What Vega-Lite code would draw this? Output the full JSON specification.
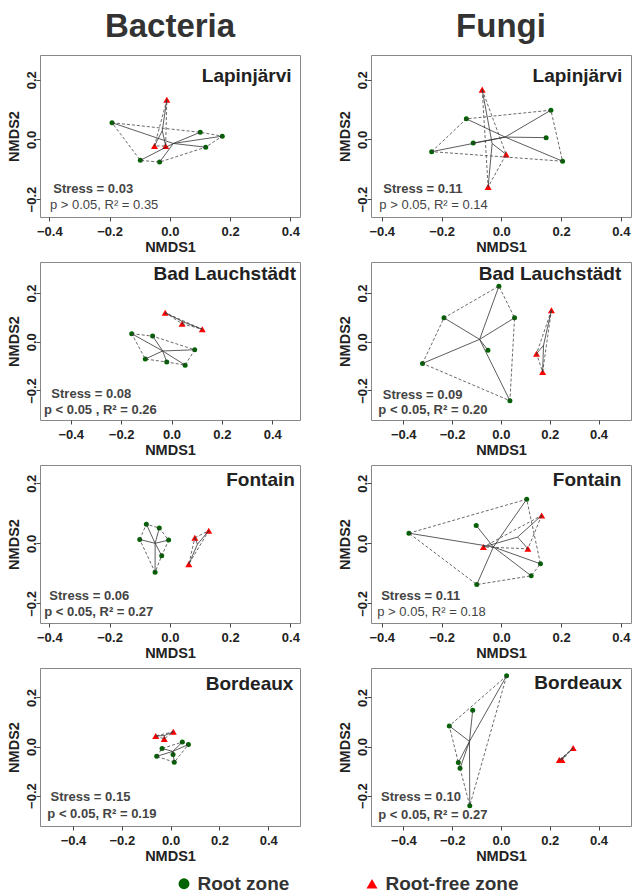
{
  "$schema": "https://vega.github.io/schema/vega-lite/v6.json",
  "padding": {"left": 6, "top": 10, "right": 2, "bottom": 0},
  "background": "white",
  "datasets": {
    "pts": [
      {"k": "Bacteria", "site": "Lapinjärvi", "zone": "Root zone", "x": -0.192, "y": 0.056, "h": 1},
      {"k": "Bacteria", "site": "Lapinjärvi", "zone": "Root zone", "x": 0.101, "y": 0.024, "h": 2},
      {"k": "Bacteria", "site": "Lapinjärvi", "zone": "Root zone", "x": 0.174, "y": 0.011, "h": 3},
      {"k": "Bacteria", "site": "Lapinjärvi", "zone": "Root zone", "x": 0.119, "y": -0.026, "h": 4},
      {"k": "Bacteria", "site": "Lapinjärvi", "zone": "Root zone", "x": -0.034, "y": -0.076, "h": 5},
      {"k": "Bacteria", "site": "Lapinjärvi", "zone": "Root zone", "x": -0.098, "y": -0.07, "h": 6},
      {"k": "Bacteria", "site": "Lapinjärvi", "zone": "Root-free zone", "x": -0.01, "y": 0.133, "h": 1},
      {"k": "Bacteria", "site": "Lapinjärvi", "zone": "Root-free zone", "x": -0.051, "y": -0.022, "h": 2},
      {"k": "Bacteria", "site": "Lapinjärvi", "zone": "Root-free zone", "x": -0.014, "y": -0.022, "h": 3},

      {"k": "Fungi", "site": "Lapinjärvi", "zone": "Root zone", "x": -0.233, "y": -0.041, "h": 1},
      {"k": "Fungi", "site": "Lapinjärvi", "zone": "Root zone", "x": -0.117, "y": 0.069, "h": 2},
      {"k": "Fungi", "site": "Lapinjärvi", "zone": "Root zone", "x": 0.166, "y": 0.098, "h": 3},
      {"k": "Fungi", "site": "Lapinjärvi", "zone": "Root zone", "x": 0.205, "y": -0.073, "h": 4},
      {"k": "Fungi", "site": "Lapinjärvi", "zone": "Root zone", "x": 0.15, "y": 0.006, "h": null},
      {"k": "Fungi", "site": "Lapinjärvi", "zone": "Root zone", "x": -0.094, "y": -0.012, "h": null},
      {"k": "Fungi", "site": "Lapinjärvi", "zone": "Root-free zone", "x": -0.064, "y": 0.167, "h": 1},
      {"k": "Fungi", "site": "Lapinjärvi", "zone": "Root-free zone", "x": 0.016, "y": -0.05, "h": 2},
      {"k": "Fungi", "site": "Lapinjärvi", "zone": "Root-free zone", "x": -0.044, "y": -0.159, "h": 3},

      {"k": "Bacteria", "site": "Bad Lauchstädt", "zone": "Root zone", "x": -0.158, "y": 0.033, "h": 1},
      {"k": "Bacteria", "site": "Bad Lauchstädt", "zone": "Root zone", "x": -0.075, "y": 0.023, "h": 2},
      {"k": "Bacteria", "site": "Bad Lauchstädt", "zone": "Root zone", "x": 0.092, "y": -0.033, "h": 3},
      {"k": "Bacteria", "site": "Bad Lauchstädt", "zone": "Root zone", "x": 0.054, "y": -0.096, "h": 4},
      {"k": "Bacteria", "site": "Bad Lauchstädt", "zone": "Root zone", "x": -0.019, "y": -0.083, "h": 5},
      {"k": "Bacteria", "site": "Bad Lauchstädt", "zone": "Root zone", "x": -0.104, "y": -0.071, "h": 6},
      {"k": "Bacteria", "site": "Bad Lauchstädt", "zone": "Root-free zone", "x": -0.025, "y": 0.119, "h": 1},
      {"k": "Bacteria", "site": "Bad Lauchstädt", "zone": "Root-free zone", "x": 0.042, "y": 0.074, "h": 2},
      {"k": "Bacteria", "site": "Bad Lauchstädt", "zone": "Root-free zone", "x": 0.122, "y": 0.051, "h": 3},

      {"k": "Fungi", "site": "Bad Lauchstädt", "zone": "Root zone", "x": -0.321, "y": -0.089, "h": 1},
      {"k": "Fungi", "site": "Bad Lauchstädt", "zone": "Root zone", "x": -0.233, "y": 0.098, "h": 2},
      {"k": "Fungi", "site": "Bad Lauchstädt", "zone": "Root zone", "x": -0.008, "y": 0.228, "h": 3},
      {"k": "Fungi", "site": "Bad Lauchstädt", "zone": "Root zone", "x": 0.056, "y": 0.098, "h": 4},
      {"k": "Fungi", "site": "Bad Lauchstädt", "zone": "Root zone", "x": 0.037, "y": -0.242, "h": 5},
      {"k": "Fungi", "site": "Bad Lauchstädt", "zone": "Root zone", "x": -0.053, "y": -0.035, "h": null},
      {"k": "Fungi", "site": "Bad Lauchstädt", "zone": "Root-free zone", "x": 0.207, "y": 0.129, "h": 1},
      {"k": "Fungi", "site": "Bad Lauchstädt", "zone": "Root-free zone", "x": 0.146, "y": -0.049, "h": 2},
      {"k": "Fungi", "site": "Bad Lauchstädt", "zone": "Root-free zone", "x": 0.171, "y": -0.124, "h": 3},

      {"k": "Bacteria", "site": "Fontain", "zone": "Root zone", "x": -0.1, "y": 0.013, "h": 1},
      {"k": "Bacteria", "site": "Fontain", "zone": "Root zone", "x": -0.078, "y": 0.064, "h": 2},
      {"k": "Bacteria", "site": "Fontain", "zone": "Root zone", "x": -0.035, "y": 0.051, "h": 3},
      {"k": "Bacteria", "site": "Fontain", "zone": "Root zone", "x": -0.004, "y": 0.011, "h": 4},
      {"k": "Bacteria", "site": "Fontain", "zone": "Root zone", "x": -0.027, "y": -0.041, "h": 5},
      {"k": "Bacteria", "site": "Fontain", "zone": "Root zone", "x": -0.049, "y": -0.096, "h": 6},
      {"k": "Bacteria", "site": "Fontain", "zone": "Root-free zone", "x": 0.083, "y": 0.019, "h": 1},
      {"k": "Bacteria", "site": "Fontain", "zone": "Root-free zone", "x": 0.129, "y": 0.042, "h": 2},
      {"k": "Bacteria", "site": "Fontain", "zone": "Root-free zone", "x": 0.063, "y": -0.069, "h": 3},

      {"k": "Fungi", "site": "Fontain", "zone": "Root zone", "x": -0.309, "y": 0.034, "h": 1},
      {"k": "Fungi", "site": "Fontain", "zone": "Root zone", "x": 0.085, "y": 0.147, "h": 2},
      {"k": "Fungi", "site": "Fontain", "zone": "Root zone", "x": 0.131, "y": -0.068, "h": 3},
      {"k": "Fungi", "site": "Fontain", "zone": "Root zone", "x": 0.1, "y": -0.108, "h": 4},
      {"k": "Fungi", "site": "Fontain", "zone": "Root zone", "x": -0.082, "y": -0.137, "h": 5},
      {"k": "Fungi", "site": "Fontain", "zone": "Root zone", "x": -0.084, "y": 0.06, "h": null},
      {"k": "Fungi", "site": "Fontain", "zone": "Root-free zone", "x": 0.135, "y": 0.093, "h": 1},
      {"k": "Fungi", "site": "Fontain", "zone": "Root-free zone", "x": 0.089, "y": -0.018, "h": 2},
      {"k": "Fungi", "site": "Fontain", "zone": "Root-free zone", "x": -0.06, "y": -0.012, "h": 3},

      {"k": "Bacteria", "site": "Bordeaux", "zone": "Root zone", "x": -0.057, "y": -0.04, "h": 1},
      {"k": "Bacteria", "site": "Bordeaux", "zone": "Root zone", "x": -0.035, "y": -0.008, "h": 2},
      {"k": "Bacteria", "site": "Bordeaux", "zone": "Root zone", "x": 0.048, "y": 0.018, "h": 3},
      {"k": "Bacteria", "site": "Bordeaux", "zone": "Root zone", "x": 0.073, "y": 0.008, "h": 4},
      {"k": "Bacteria", "site": "Bordeaux", "zone": "Root zone", "x": 0.015, "y": -0.064, "h": 5},
      {"k": "Bacteria", "site": "Bordeaux", "zone": "Root zone", "x": 0.01, "y": -0.033, "h": null},
      {"k": "Bacteria", "site": "Bordeaux", "zone": "Root-free zone", "x": -0.061, "y": 0.043, "h": 1},
      {"k": "Bacteria", "site": "Bordeaux", "zone": "Root-free zone", "x": -0.026, "y": 0.031, "h": 2},
      {"k": "Bacteria", "site": "Bordeaux", "zone": "Root-free zone", "x": 0.011, "y": 0.06, "h": 3},

      {"k": "Fungi", "site": "Bordeaux", "zone": "Root zone", "x": 0.023, "y": 0.288, "h": 1},
      {"k": "Fungi", "site": "Bordeaux", "zone": "Root zone", "x": -0.212, "y": 0.084, "h": 2},
      {"k": "Fungi", "site": "Bordeaux", "zone": "Root zone", "x": -0.175, "y": -0.065, "h": 3},
      {"k": "Fungi", "site": "Bordeaux", "zone": "Root zone", "x": -0.168, "y": -0.089, "h": 4},
      {"k": "Fungi", "site": "Bordeaux", "zone": "Root zone", "x": -0.128, "y": -0.241, "h": 5},
      {"k": "Fungi", "site": "Bordeaux", "zone": "Root zone", "x": -0.116, "y": 0.148, "h": null},
      {"k": "Fungi", "site": "Bordeaux", "zone": "Root-free zone", "x": 0.296, "y": -0.006, "h": 1},
      {"k": "Fungi", "site": "Bordeaux", "zone": "Root-free zone", "x": 0.239, "y": -0.055, "h": 2},
      {"k": "Fungi", "site": "Bordeaux", "zone": "Root-free zone", "x": 0.25, "y": -0.055, "h": 3}
    ]
  },
  "columns": 2,
  "align": "each",
  "bounds": "flush",
  "spacing": {"row": 45, "column": 71},
  "concat": [
    {
      "width": 260, "height": 162,
      "layer": [
        {"data": {"name": "pts"}, "transform": [{"filter": "datum.k === 'Bacteria' && datum.site === 'Lapinjärvi' && datum.zone === 'Root zone'"}],
         "mark": {"type": "point", "filled": true, "opacity": 1, "size": 25},
         "encoding": {
           "x": {"field": "x", "type": "quantitative", "title": "NMDS1", "scale": {"domain": [-0.431, 0.432], "nice": false, "zero": false}},
           "y": {"field": "y", "type": "quantitative", "title": "NMDS2", "scale": {"domain": [-0.26, 0.283], "nice": false, "zero": false}},
           "color": {"field": "zone", "type": "nominal", "scale": {"domain": ["Root zone", "Root-free zone"], "range": ["#006400", "#ff0000"]}, "legend": {"title": null, "orient": "none", "legendX": 134.5, "legendY": 819, "direction": "horizontal"}},
           "shape": {"field": "zone", "type": "nominal", "scale": {"domain": ["Root zone", "Root-free zone"], "range": ["circle", "triangle-up"]}, "legend": {"title": null, "orient": "none", "legendX": 134.5, "legendY": 819, "direction": "horizontal"}}}},
        {"data": {"name": "pts"}, "transform": [{"filter": "datum.k === 'Bacteria' && datum.site === 'Lapinjärvi' && datum.zone === 'Root-free zone'"}],
         "mark": {"type": "point", "filled": true, "opacity": 1, "size": 49},
         "encoding": {
           "x": {"field": "x", "type": "quantitative", "title": "NMDS1"},
           "y": {"field": "y", "type": "quantitative", "title": "NMDS2"},
           "color": {"field": "zone", "type": "nominal", "scale": {"domain": ["Root zone", "Root-free zone"], "range": ["#006400", "#ff0000"]}, "legend": {"title": null, "orient": "none", "legendX": 134.5, "legendY": 819, "direction": "horizontal"}},
           "shape": {"field": "zone", "type": "nominal", "scale": {"domain": ["Root zone", "Root-free zone"], "range": ["circle", "triangle-up"]}, "legend": {"title": null, "orient": "none", "legendX": 134.5, "legendY": 819, "direction": "horizontal"}}}},
        {"data": {"name": "pts"}, "transform": [{"filter": "datum.k === 'Bacteria' && datum.site === 'Lapinjärvi' && isValid(datum.h)"}], "mark": {"type": "line", "interpolate": "linear-closed", "strokeDash": [3, 2], "strokeWidth": 0.8, "color": "#444444"}, "encoding": {"x": {"field": "x", "type": "quantitative", "title": "NMDS1"}, "y": {"field": "y", "type": "quantitative", "title": "NMDS2"}, "detail": {"field": "zone"}, "order": {"field": "h", "type": "quantitative"}}},
        {"data": {"name": "pts"}, "transform": [{"filter": "datum.k === 'Bacteria' && datum.site === 'Lapinjärvi'"}, {"joinaggregate": [{"op": "mean", "field": "x", "as": "cx"}, {"op": "mean", "field": "y", "as": "cy"}], "groupby": ["zone"]}], "mark": {"type": "rule", "strokeWidth": 0.8, "color": "#333333"}, "encoding": {"x": {"field": "x", "type": "quantitative", "title": "NMDS1"}, "y": {"field": "y", "type": "quantitative", "title": "NMDS2"}, "x2": {"field": "cx", "title": "NMDS1"}, "y2": {"field": "cy", "title": "NMDS2"}}},
        {"data": {"values": [{"t": "Bacteria"}]}, "mark": {"type": "text", "align": "center", "baseline": "alphabetic", "fontSize": 33, "fontWeight": "bold", "color": "#333333"}, "encoding": {"x": {"datum": 0.0005, "type": "quantitative", "title": "NMDS1"}, "y": {"datum": 0.3433, "type": "quantitative", "title": "NMDS2"}, "text": {"field": "t"}}},
        {"data": {"values": [{"t": "Lapinjärvi"}]}, "mark": {"type": "text", "align": "right", "baseline": "alphabetic", "fontSize": 19, "fontWeight": "bold", "color": "#222222"}, "encoding": {"x": {"datum": 0.404, "type": "quantitative", "title": "NMDS1"}, "y": {"datum": 0.194, "type": "quantitative", "title": "NMDS2"}, "text": {"field": "t"}}},
        {"data": {"values": [{"t": "Stress = 0.03"}]}, "mark": {"type": "text", "align": "left", "baseline": "alphabetic", "fontSize": 13, "fontWeight": "bold", "color": "#444444"}, "encoding": {"x": {"datum": -0.387, "type": "quantitative", "title": "NMDS1"}, "y": {"datum": -0.181, "type": "quantitative", "title": "NMDS2"}, "text": {"field": "t"}}},
        {"data": {"values": [{"t": "p > 0.05, R² = 0.35"}]}, "mark": {"type": "text", "align": "left", "baseline": "alphabetic", "fontSize": 13, "fontWeight": "normal", "color": "#444444"}, "encoding": {"x": {"datum": -0.398, "type": "quantitative", "title": "NMDS1"}, "y": {"datum": -0.233, "type": "quantitative", "title": "NMDS2"}, "text": {"field": "t"}}}
      ]
    },
    {
      "width": 260, "height": 162,
      "layer": [
        {"data": {"name": "pts"}, "transform": [{"filter": "datum.k === 'Fungi' && datum.site === 'Lapinjärvi' && datum.zone === 'Root zone'"}],
         "mark": {"type": "point", "filled": true, "opacity": 1, "size": 25},
         "encoding": {
           "x": {"field": "x", "type": "quantitative", "title": "NMDS1", "scale": {"domain": [-0.436, 0.434], "nice": false, "zero": false}},
           "y": {"field": "y", "type": "quantitative", "title": "NMDS2", "scale": {"domain": [-0.26, 0.283], "nice": false, "zero": false}},
           "color": {"field": "zone", "type": "nominal", "scale": {"domain": ["Root zone", "Root-free zone"], "range": ["#006400", "#ff0000"]}, "legend": {"title": null, "orient": "none", "legendX": 134.5, "legendY": 819, "direction": "horizontal"}},
           "shape": {"field": "zone", "type": "nominal", "scale": {"domain": ["Root zone", "Root-free zone"], "range": ["circle", "triangle-up"]}, "legend": {"title": null, "orient": "none", "legendX": 134.5, "legendY": 819, "direction": "horizontal"}}}},
        {"data": {"name": "pts"}, "transform": [{"filter": "datum.k === 'Fungi' && datum.site === 'Lapinjärvi' && datum.zone === 'Root-free zone'"}],
         "mark": {"type": "point", "filled": true, "opacity": 1, "size": 49},
         "encoding": {
           "x": {"field": "x", "type": "quantitative", "title": "NMDS1"},
           "y": {"field": "y", "type": "quantitative", "title": "NMDS2"},
           "color": {"field": "zone", "type": "nominal", "scale": {"domain": ["Root zone", "Root-free zone"], "range": ["#006400", "#ff0000"]}, "legend": {"title": null, "orient": "none", "legendX": 134.5, "legendY": 819, "direction": "horizontal"}},
           "shape": {"field": "zone", "type": "nominal", "scale": {"domain": ["Root zone", "Root-free zone"], "range": ["circle", "triangle-up"]}, "legend": {"title": null, "orient": "none", "legendX": 134.5, "legendY": 819, "direction": "horizontal"}}}},
        {"data": {"name": "pts"}, "transform": [{"filter": "datum.k === 'Fungi' && datum.site === 'Lapinjärvi' && isValid(datum.h)"}], "mark": {"type": "line", "interpolate": "linear-closed", "strokeDash": [3, 2], "strokeWidth": 0.8, "color": "#444444"}, "encoding": {"x": {"field": "x", "type": "quantitative", "title": "NMDS1"}, "y": {"field": "y", "type": "quantitative", "title": "NMDS2"}, "detail": {"field": "zone"}, "order": {"field": "h", "type": "quantitative"}}},
        {"data": {"name": "pts"}, "transform": [{"filter": "datum.k === 'Fungi' && datum.site === 'Lapinjärvi'"}, {"joinaggregate": [{"op": "mean", "field": "x", "as": "cx"}, {"op": "mean", "field": "y", "as": "cy"}], "groupby": ["zone"]}], "mark": {"type": "rule", "strokeWidth": 0.8, "color": "#333333"}, "encoding": {"x": {"field": "x", "type": "quantitative", "title": "NMDS1"}, "y": {"field": "y", "type": "quantitative", "title": "NMDS2"}, "x2": {"field": "cx", "title": "NMDS1"}, "y2": {"field": "cy", "title": "NMDS2"}}},
        {"data": {"values": [{"t": "Fungi"}]}, "mark": {"type": "text", "align": "center", "baseline": "alphabetic", "fontSize": 33, "fontWeight": "bold", "color": "#333333"}, "encoding": {"x": {"datum": -0.001, "type": "quantitative", "title": "NMDS1"}, "y": {"datum": 0.3433, "type": "quantitative", "title": "NMDS2"}, "text": {"field": "t"}}},
        {"data": {"values": [{"t": "Lapinjärvi"}]}, "mark": {"type": "text", "align": "right", "baseline": "alphabetic", "fontSize": 19, "fontWeight": "bold", "color": "#222222"}, "encoding": {"x": {"datum": 0.405, "type": "quantitative", "title": "NMDS1"}, "y": {"datum": 0.194, "type": "quantitative", "title": "NMDS2"}, "text": {"field": "t"}}},
        {"data": {"values": [{"t": "Stress = 0.11"}]}, "mark": {"type": "text", "align": "left", "baseline": "alphabetic", "fontSize": 13, "fontWeight": "bold", "color": "#444444"}, "encoding": {"x": {"datum": -0.395, "type": "quantitative", "title": "NMDS1"}, "y": {"datum": -0.18, "type": "quantitative", "title": "NMDS2"}, "text": {"field": "t"}}},
        {"data": {"values": [{"t": "p > 0.05, R² = 0.14"}]}, "mark": {"type": "text", "align": "left", "baseline": "alphabetic", "fontSize": 13, "fontWeight": "normal", "color": "#444444"}, "encoding": {"x": {"datum": -0.408, "type": "quantitative", "title": "NMDS1"}, "y": {"datum": -0.233, "type": "quantitative", "title": "NMDS2"}, "text": {"field": "t"}}}
      ]
    },
    {
      "width": 260, "height": 158,
      "layer": [
        {"data": {"name": "pts"}, "transform": [{"filter": "datum.k === 'Bacteria' && datum.site === 'Bad Lauchstädt' && datum.zone === 'Root zone'"}],
         "mark": {"type": "point", "filled": true, "opacity": 1, "size": 25},
         "encoding": {
           "x": {"field": "x", "type": "quantitative", "title": "NMDS1", "scale": {"domain": [-0.522, 0.51], "nice": false, "zero": false}},
           "y": {"field": "y", "type": "quantitative", "title": "NMDS2", "scale": {"domain": [-0.321, 0.327], "nice": false, "zero": false}},
           "color": {"field": "zone", "type": "nominal", "scale": {"domain": ["Root zone", "Root-free zone"], "range": ["#006400", "#ff0000"]}, "legend": {"title": null, "orient": "none", "legendX": 134.5, "legendY": 819, "direction": "horizontal"}},
           "shape": {"field": "zone", "type": "nominal", "scale": {"domain": ["Root zone", "Root-free zone"], "range": ["circle", "triangle-up"]}, "legend": {"title": null, "orient": "none", "legendX": 134.5, "legendY": 819, "direction": "horizontal"}}}},
        {"data": {"name": "pts"}, "transform": [{"filter": "datum.k === 'Bacteria' && datum.site === 'Bad Lauchstädt' && datum.zone === 'Root-free zone'"}],
         "mark": {"type": "point", "filled": true, "opacity": 1, "size": 49},
         "encoding": {
           "x": {"field": "x", "type": "quantitative", "title": "NMDS1"},
           "y": {"field": "y", "type": "quantitative", "title": "NMDS2"},
           "color": {"field": "zone", "type": "nominal", "scale": {"domain": ["Root zone", "Root-free zone"], "range": ["#006400", "#ff0000"]}, "legend": {"title": null, "orient": "none", "legendX": 134.5, "legendY": 819, "direction": "horizontal"}},
           "shape": {"field": "zone", "type": "nominal", "scale": {"domain": ["Root zone", "Root-free zone"], "range": ["circle", "triangle-up"]}, "legend": {"title": null, "orient": "none", "legendX": 134.5, "legendY": 819, "direction": "horizontal"}}}},
        {"data": {"name": "pts"}, "transform": [{"filter": "datum.k === 'Bacteria' && datum.site === 'Bad Lauchstädt' && isValid(datum.h)"}], "mark": {"type": "line", "interpolate": "linear-closed", "strokeDash": [3, 2], "strokeWidth": 0.8, "color": "#444444"}, "encoding": {"x": {"field": "x", "type": "quantitative", "title": "NMDS1"}, "y": {"field": "y", "type": "quantitative", "title": "NMDS2"}, "detail": {"field": "zone"}, "order": {"field": "h", "type": "quantitative"}}},
        {"data": {"name": "pts"}, "transform": [{"filter": "datum.k === 'Bacteria' && datum.site === 'Bad Lauchstädt'"}, {"joinaggregate": [{"op": "mean", "field": "x", "as": "cx"}, {"op": "mean", "field": "y", "as": "cy"}], "groupby": ["zone"]}], "mark": {"type": "rule", "strokeWidth": 0.8, "color": "#333333"}, "encoding": {"x": {"field": "x", "type": "quantitative", "title": "NMDS1"}, "y": {"field": "y", "type": "quantitative", "title": "NMDS2"}, "x2": {"field": "cx", "title": "NMDS1"}, "y2": {"field": "cy", "title": "NMDS2"}}},
        {"data": {"values": [{"t": "Bad Lauchstädt"}]}, "mark": {"type": "text", "align": "right", "baseline": "alphabetic", "fontSize": 19, "fontWeight": "bold", "color": "#222222"}, "encoding": {"x": {"datum": 0.494, "type": "quantitative", "title": "NMDS1"}, "y": {"datum": 0.252, "type": "quantitative", "title": "NMDS2"}, "text": {"field": "t"}}},
        {"data": {"values": [{"t": "Stress = 0.08"}]}, "mark": {"type": "text", "align": "left", "baseline": "alphabetic", "fontSize": 13, "fontWeight": "bold", "color": "#444444"}, "encoding": {"x": {"datum": -0.477, "type": "quantitative", "title": "NMDS1"}, "y": {"datum": -0.23, "type": "quantitative", "title": "NMDS2"}, "text": {"field": "t"}}},
        {"data": {"values": [{"t": "p < 0.05 , R² = 0.26"}]}, "mark": {"type": "text", "align": "left", "baseline": "alphabetic", "fontSize": 13, "fontWeight": "bold", "color": "#444444"}, "encoding": {"x": {"datum": -0.506, "type": "quantitative", "title": "NMDS1"}, "y": {"datum": -0.298, "type": "quantitative", "title": "NMDS2"}, "text": {"field": "t"}}}
      ]
    },
    {
      "width": 260, "height": 158,
      "layer": [
        {"data": {"name": "pts"}, "transform": [{"filter": "datum.k === 'Fungi' && datum.site === 'Bad Lauchstädt' && datum.zone === 'Root zone'"}],
         "mark": {"type": "point", "filled": true, "opacity": 1, "size": 25},
         "encoding": {
           "x": {"field": "x", "type": "quantitative", "title": "NMDS1", "scale": {"domain": [-0.532, 0.533], "nice": false, "zero": false}},
           "y": {"field": "y", "type": "quantitative", "title": "NMDS2", "scale": {"domain": [-0.321, 0.327], "nice": false, "zero": false}},
           "color": {"field": "zone", "type": "nominal", "scale": {"domain": ["Root zone", "Root-free zone"], "range": ["#006400", "#ff0000"]}, "legend": {"title": null, "orient": "none", "legendX": 134.5, "legendY": 819, "direction": "horizontal"}},
           "shape": {"field": "zone", "type": "nominal", "scale": {"domain": ["Root zone", "Root-free zone"], "range": ["circle", "triangle-up"]}, "legend": {"title": null, "orient": "none", "legendX": 134.5, "legendY": 819, "direction": "horizontal"}}}},
        {"data": {"name": "pts"}, "transform": [{"filter": "datum.k === 'Fungi' && datum.site === 'Bad Lauchstädt' && datum.zone === 'Root-free zone'"}],
         "mark": {"type": "point", "filled": true, "opacity": 1, "size": 49},
         "encoding": {
           "x": {"field": "x", "type": "quantitative", "title": "NMDS1"},
           "y": {"field": "y", "type": "quantitative", "title": "NMDS2"},
           "color": {"field": "zone", "type": "nominal", "scale": {"domain": ["Root zone", "Root-free zone"], "range": ["#006400", "#ff0000"]}, "legend": {"title": null, "orient": "none", "legendX": 134.5, "legendY": 819, "direction": "horizontal"}},
           "shape": {"field": "zone", "type": "nominal", "scale": {"domain": ["Root zone", "Root-free zone"], "range": ["circle", "triangle-up"]}, "legend": {"title": null, "orient": "none", "legendX": 134.5, "legendY": 819, "direction": "horizontal"}}}},
        {"data": {"name": "pts"}, "transform": [{"filter": "datum.k === 'Fungi' && datum.site === 'Bad Lauchstädt' && isValid(datum.h)"}], "mark": {"type": "line", "interpolate": "linear-closed", "strokeDash": [3, 2], "strokeWidth": 0.8, "color": "#444444"}, "encoding": {"x": {"field": "x", "type": "quantitative", "title": "NMDS1"}, "y": {"field": "y", "type": "quantitative", "title": "NMDS2"}, "detail": {"field": "zone"}, "order": {"field": "h", "type": "quantitative"}}},
        {"data": {"name": "pts"}, "transform": [{"filter": "datum.k === 'Fungi' && datum.site === 'Bad Lauchstädt'"}, {"joinaggregate": [{"op": "mean", "field": "x", "as": "cx"}, {"op": "mean", "field": "y", "as": "cy"}], "groupby": ["zone"]}], "mark": {"type": "rule", "strokeWidth": 0.8, "color": "#333333"}, "encoding": {"x": {"field": "x", "type": "quantitative", "title": "NMDS1"}, "y": {"field": "y", "type": "quantitative", "title": "NMDS2"}, "x2": {"field": "cx", "title": "NMDS1"}, "y2": {"field": "cy", "title": "NMDS2"}}},
        {"data": {"values": [{"t": "Bad Lauchstädt"}]}, "mark": {"type": "text", "align": "right", "baseline": "alphabetic", "fontSize": 19, "fontWeight": "bold", "color": "#222222"}, "encoding": {"x": {"datum": 0.493, "type": "quantitative", "title": "NMDS1"}, "y": {"datum": 0.252, "type": "quantitative", "title": "NMDS2"}, "text": {"field": "t"}}},
        {"data": {"values": [{"t": "Stress = 0.09"}]}, "mark": {"type": "text", "align": "left", "baseline": "alphabetic", "fontSize": 13, "fontWeight": "bold", "color": "#444444"}, "encoding": {"x": {"datum": -0.484, "type": "quantitative", "title": "NMDS1"}, "y": {"datum": -0.234, "type": "quantitative", "title": "NMDS2"}, "text": {"field": "t"}}},
        {"data": {"values": [{"t": "p < 0.05, R² = 0.20"}]}, "mark": {"type": "text", "align": "left", "baseline": "alphabetic", "fontSize": 13, "fontWeight": "bold", "color": "#444444"}, "encoding": {"x": {"datum": -0.502, "type": "quantitative", "title": "NMDS1"}, "y": {"datum": -0.298, "type": "quantitative", "title": "NMDS2"}, "text": {"field": "t"}}}
      ]
    },
    {
      "width": 260, "height": 158,
      "layer": [
        {"data": {"name": "pts"}, "transform": [{"filter": "datum.k === 'Bacteria' && datum.site === 'Fontain' && datum.zone === 'Root zone'"}],
         "mark": {"type": "point", "filled": true, "opacity": 1, "size": 25},
         "encoding": {
           "x": {"field": "x", "type": "quantitative", "title": "NMDS1", "scale": {"domain": [-0.431, 0.432], "nice": false, "zero": false}},
           "y": {"field": "y", "type": "quantitative", "title": "NMDS2", "scale": {"domain": [-0.265, 0.261], "nice": false, "zero": false}},
           "color": {"field": "zone", "type": "nominal", "scale": {"domain": ["Root zone", "Root-free zone"], "range": ["#006400", "#ff0000"]}, "legend": {"title": null, "orient": "none", "legendX": 134.5, "legendY": 819, "direction": "horizontal"}},
           "shape": {"field": "zone", "type": "nominal", "scale": {"domain": ["Root zone", "Root-free zone"], "range": ["circle", "triangle-up"]}, "legend": {"title": null, "orient": "none", "legendX": 134.5, "legendY": 819, "direction": "horizontal"}}}},
        {"data": {"name": "pts"}, "transform": [{"filter": "datum.k === 'Bacteria' && datum.site === 'Fontain' && datum.zone === 'Root-free zone'"}],
         "mark": {"type": "point", "filled": true, "opacity": 1, "size": 49},
         "encoding": {
           "x": {"field": "x", "type": "quantitative", "title": "NMDS1"},
           "y": {"field": "y", "type": "quantitative", "title": "NMDS2"},
           "color": {"field": "zone", "type": "nominal", "scale": {"domain": ["Root zone", "Root-free zone"], "range": ["#006400", "#ff0000"]}, "legend": {"title": null, "orient": "none", "legendX": 134.5, "legendY": 819, "direction": "horizontal"}},
           "shape": {"field": "zone", "type": "nominal", "scale": {"domain": ["Root zone", "Root-free zone"], "range": ["circle", "triangle-up"]}, "legend": {"title": null, "orient": "none", "legendX": 134.5, "legendY": 819, "direction": "horizontal"}}}},
        {"data": {"name": "pts"}, "transform": [{"filter": "datum.k === 'Bacteria' && datum.site === 'Fontain' && isValid(datum.h)"}], "mark": {"type": "line", "interpolate": "linear-closed", "strokeDash": [3, 2], "strokeWidth": 0.8, "color": "#444444"}, "encoding": {"x": {"field": "x", "type": "quantitative", "title": "NMDS1"}, "y": {"field": "y", "type": "quantitative", "title": "NMDS2"}, "detail": {"field": "zone"}, "order": {"field": "h", "type": "quantitative"}}},
        {"data": {"name": "pts"}, "transform": [{"filter": "datum.k === 'Bacteria' && datum.site === 'Fontain'"}, {"joinaggregate": [{"op": "mean", "field": "x", "as": "cx"}, {"op": "mean", "field": "y", "as": "cy"}], "groupby": ["zone"]}], "mark": {"type": "rule", "strokeWidth": 0.8, "color": "#333333"}, "encoding": {"x": {"field": "x", "type": "quantitative", "title": "NMDS1"}, "y": {"field": "y", "type": "quantitative", "title": "NMDS2"}, "x2": {"field": "cx", "title": "NMDS1"}, "y2": {"field": "cy", "title": "NMDS2"}}},
        {"data": {"values": [{"t": "Fontain"}]}, "mark": {"type": "text", "align": "right", "baseline": "alphabetic", "fontSize": 19, "fontWeight": "bold", "color": "#222222"}, "encoding": {"x": {"datum": 0.415, "type": "quantitative", "title": "NMDS1"}, "y": {"datum": 0.192, "type": "quantitative", "title": "NMDS2"}, "text": {"field": "t"}}},
        {"data": {"values": [{"t": "Stress = 0.06"}]}, "mark": {"type": "text", "align": "left", "baseline": "alphabetic", "fontSize": 13, "fontWeight": "bold", "color": "#444444"}, "encoding": {"x": {"datum": -0.4, "type": "quantitative", "title": "NMDS1"}, "y": {"datum": -0.189, "type": "quantitative", "title": "NMDS2"}, "text": {"field": "t"}}},
        {"data": {"values": [{"t": "p < 0.05, R² = 0.27"}]}, "mark": {"type": "text", "align": "left", "baseline": "alphabetic", "fontSize": 13, "fontWeight": "bold", "color": "#444444"}, "encoding": {"x": {"datum": -0.417, "type": "quantitative", "title": "NMDS1"}, "y": {"datum": -0.242, "type": "quantitative", "title": "NMDS2"}, "text": {"field": "t"}}}
      ]
    },
    {
      "width": 260, "height": 158,
      "layer": [
        {"data": {"name": "pts"}, "transform": [{"filter": "datum.k === 'Fungi' && datum.site === 'Fontain' && datum.zone === 'Root zone'"}],
         "mark": {"type": "point", "filled": true, "opacity": 1, "size": 25},
         "encoding": {
           "x": {"field": "x", "type": "quantitative", "title": "NMDS1", "scale": {"domain": [-0.436, 0.434], "nice": false, "zero": false}},
           "y": {"field": "y", "type": "quantitative", "title": "NMDS2", "scale": {"domain": [-0.265, 0.261], "nice": false, "zero": false}},
           "color": {"field": "zone", "type": "nominal", "scale": {"domain": ["Root zone", "Root-free zone"], "range": ["#006400", "#ff0000"]}, "legend": {"title": null, "orient": "none", "legendX": 134.5, "legendY": 819, "direction": "horizontal"}},
           "shape": {"field": "zone", "type": "nominal", "scale": {"domain": ["Root zone", "Root-free zone"], "range": ["circle", "triangle-up"]}, "legend": {"title": null, "orient": "none", "legendX": 134.5, "legendY": 819, "direction": "horizontal"}}}},
        {"data": {"name": "pts"}, "transform": [{"filter": "datum.k === 'Fungi' && datum.site === 'Fontain' && datum.zone === 'Root-free zone'"}],
         "mark": {"type": "point", "filled": true, "opacity": 1, "size": 49},
         "encoding": {
           "x": {"field": "x", "type": "quantitative", "title": "NMDS1"},
           "y": {"field": "y", "type": "quantitative", "title": "NMDS2"},
           "color": {"field": "zone", "type": "nominal", "scale": {"domain": ["Root zone", "Root-free zone"], "range": ["#006400", "#ff0000"]}, "legend": {"title": null, "orient": "none", "legendX": 134.5, "legendY": 819, "direction": "horizontal"}},
           "shape": {"field": "zone", "type": "nominal", "scale": {"domain": ["Root zone", "Root-free zone"], "range": ["circle", "triangle-up"]}, "legend": {"title": null, "orient": "none", "legendX": 134.5, "legendY": 819, "direction": "horizontal"}}}},
        {"data": {"name": "pts"}, "transform": [{"filter": "datum.k === 'Fungi' && datum.site === 'Fontain' && isValid(datum.h)"}], "mark": {"type": "line", "interpolate": "linear-closed", "strokeDash": [3, 2], "strokeWidth": 0.8, "color": "#444444"}, "encoding": {"x": {"field": "x", "type": "quantitative", "title": "NMDS1"}, "y": {"field": "y", "type": "quantitative", "title": "NMDS2"}, "detail": {"field": "zone"}, "order": {"field": "h", "type": "quantitative"}}},
        {"data": {"name": "pts"}, "transform": [{"filter": "datum.k === 'Fungi' && datum.site === 'Fontain'"}, {"joinaggregate": [{"op": "mean", "field": "x", "as": "cx"}, {"op": "mean", "field": "y", "as": "cy"}], "groupby": ["zone"]}], "mark": {"type": "rule", "strokeWidth": 0.8, "color": "#333333"}, "encoding": {"x": {"field": "x", "type": "quantitative", "title": "NMDS1"}, "y": {"field": "y", "type": "quantitative", "title": "NMDS2"}, "x2": {"field": "cx", "title": "NMDS1"}, "y2": {"field": "cy", "title": "NMDS2"}}},
        {"data": {"values": [{"t": "Fontain"}]}, "mark": {"type": "text", "align": "right", "baseline": "alphabetic", "fontSize": 19, "fontWeight": "bold", "color": "#222222"}, "encoding": {"x": {"datum": 0.402, "type": "quantitative", "title": "NMDS1"}, "y": {"datum": 0.192, "type": "quantitative", "title": "NMDS2"}, "text": {"field": "t"}}},
        {"data": {"values": [{"t": "Stress = 0.11"}]}, "mark": {"type": "text", "align": "left", "baseline": "alphabetic", "fontSize": 13, "fontWeight": "bold", "color": "#444444"}, "encoding": {"x": {"datum": -0.402, "type": "quantitative", "title": "NMDS1"}, "y": {"datum": -0.187, "type": "quantitative", "title": "NMDS2"}, "text": {"field": "t"}}},
        {"data": {"values": [{"t": "p > 0.05, R² = 0.18"}]}, "mark": {"type": "text", "align": "left", "baseline": "alphabetic", "fontSize": 13, "fontWeight": "normal", "color": "#444444"}, "encoding": {"x": {"datum": -0.415, "type": "quantitative", "title": "NMDS1"}, "y": {"datum": -0.242, "type": "quantitative", "title": "NMDS2"}, "text": {"field": "t"}}}
      ]
    },
    {
      "width": 260, "height": 158,
      "layer": [
        {"data": {"name": "pts"}, "transform": [{"filter": "datum.k === 'Bacteria' && datum.site === 'Bordeaux' && datum.zone === 'Root zone'"}],
         "mark": {"type": "point", "filled": true, "opacity": 1, "size": 25},
         "encoding": {
           "x": {"field": "x", "type": "quantitative", "title": "NMDS1", "scale": {"domain": [-0.535, 0.53], "nice": false, "zero": false}},
           "y": {"field": "y", "type": "quantitative", "title": "NMDS2", "scale": {"domain": [-0.324, 0.32], "nice": false, "zero": false}},
           "color": {"field": "zone", "type": "nominal", "scale": {"domain": ["Root zone", "Root-free zone"], "range": ["#006400", "#ff0000"]}, "legend": {"title": null, "orient": "none", "legendX": 134.5, "legendY": 819, "direction": "horizontal"}},
           "shape": {"field": "zone", "type": "nominal", "scale": {"domain": ["Root zone", "Root-free zone"], "range": ["circle", "triangle-up"]}, "legend": {"title": null, "orient": "none", "legendX": 134.5, "legendY": 819, "direction": "horizontal"}}}},
        {"data": {"name": "pts"}, "transform": [{"filter": "datum.k === 'Bacteria' && datum.site === 'Bordeaux' && datum.zone === 'Root-free zone'"}],
         "mark": {"type": "point", "filled": true, "opacity": 1, "size": 49},
         "encoding": {
           "x": {"field": "x", "type": "quantitative", "title": "NMDS1"},
           "y": {"field": "y", "type": "quantitative", "title": "NMDS2"},
           "color": {"field": "zone", "type": "nominal", "scale": {"domain": ["Root zone", "Root-free zone"], "range": ["#006400", "#ff0000"]}, "legend": {"title": null, "orient": "none", "legendX": 134.5, "legendY": 819, "direction": "horizontal"}},
           "shape": {"field": "zone", "type": "nominal", "scale": {"domain": ["Root zone", "Root-free zone"], "range": ["circle", "triangle-up"]}, "legend": {"title": null, "orient": "none", "legendX": 134.5, "legendY": 819, "direction": "horizontal"}}}},
        {"data": {"name": "pts"}, "transform": [{"filter": "datum.k === 'Bacteria' && datum.site === 'Bordeaux' && isValid(datum.h)"}], "mark": {"type": "line", "interpolate": "linear-closed", "strokeDash": [3, 2], "strokeWidth": 0.8, "color": "#444444"}, "encoding": {"x": {"field": "x", "type": "quantitative", "title": "NMDS1"}, "y": {"field": "y", "type": "quantitative", "title": "NMDS2"}, "detail": {"field": "zone"}, "order": {"field": "h", "type": "quantitative"}}},
        {"data": {"name": "pts"}, "transform": [{"filter": "datum.k === 'Bacteria' && datum.site === 'Bordeaux'"}, {"joinaggregate": [{"op": "mean", "field": "x", "as": "cx"}, {"op": "mean", "field": "y", "as": "cy"}], "groupby": ["zone"]}], "mark": {"type": "rule", "strokeWidth": 0.8, "color": "#333333"}, "encoding": {"x": {"field": "x", "type": "quantitative", "title": "NMDS1"}, "y": {"field": "y", "type": "quantitative", "title": "NMDS2"}, "x2": {"field": "cx", "title": "NMDS1"}, "y2": {"field": "cy", "title": "NMDS2"}}},
        {"data": {"values": [{"t": "Bordeaux"}]}, "mark": {"type": "text", "align": "right", "baseline": "alphabetic", "fontSize": 19, "fontWeight": "bold", "color": "#222222"}, "encoding": {"x": {"datum": 0.503, "type": "quantitative", "title": "NMDS1"}, "y": {"datum": 0.23, "type": "quantitative", "title": "NMDS2"}, "text": {"field": "t"}}},
        {"data": {"values": [{"t": "Stress = 0.15"}]}, "mark": {"type": "text", "align": "left", "baseline": "alphabetic", "fontSize": 13, "fontWeight": "bold", "color": "#444444"}, "encoding": {"x": {"datum": -0.492, "type": "quantitative", "title": "NMDS1"}, "y": {"datum": -0.222, "type": "quantitative", "title": "NMDS2"}, "text": {"field": "t"}}},
        {"data": {"values": [{"t": "p < 0.05, R² = 0.19"}]}, "mark": {"type": "text", "align": "left", "baseline": "alphabetic", "fontSize": 13, "fontWeight": "bold", "color": "#444444"}, "encoding": {"x": {"datum": -0.505, "type": "quantitative", "title": "NMDS1"}, "y": {"datum": -0.293, "type": "quantitative", "title": "NMDS2"}, "text": {"field": "t"}}}
      ]
    },
    {
      "width": 260, "height": 158,
      "layer": [
        {"data": {"name": "pts"}, "transform": [{"filter": "datum.k === 'Fungi' && datum.site === 'Bordeaux' && datum.zone === 'Root zone'"}],
         "mark": {"type": "point", "filled": true, "opacity": 1, "size": 25},
         "encoding": {
           "x": {"field": "x", "type": "quantitative", "title": "NMDS1", "scale": {"domain": [-0.533, 0.533], "nice": false, "zero": false}},
           "y": {"field": "y", "type": "quantitative", "title": "NMDS2", "scale": {"domain": [-0.324, 0.32], "nice": false, "zero": false}},
           "color": {"field": "zone", "type": "nominal", "scale": {"domain": ["Root zone", "Root-free zone"], "range": ["#006400", "#ff0000"]}, "legend": {"title": null, "orient": "none", "legendX": 134.5, "legendY": 819, "direction": "horizontal"}},
           "shape": {"field": "zone", "type": "nominal", "scale": {"domain": ["Root zone", "Root-free zone"], "range": ["circle", "triangle-up"]}, "legend": {"title": null, "orient": "none", "legendX": 134.5, "legendY": 819, "direction": "horizontal"}}}},
        {"data": {"name": "pts"}, "transform": [{"filter": "datum.k === 'Fungi' && datum.site === 'Bordeaux' && datum.zone === 'Root-free zone'"}],
         "mark": {"type": "point", "filled": true, "opacity": 1, "size": 49},
         "encoding": {
           "x": {"field": "x", "type": "quantitative", "title": "NMDS1"},
           "y": {"field": "y", "type": "quantitative", "title": "NMDS2"},
           "color": {"field": "zone", "type": "nominal", "scale": {"domain": ["Root zone", "Root-free zone"], "range": ["#006400", "#ff0000"]}, "legend": {"title": null, "orient": "none", "legendX": 134.5, "legendY": 819, "direction": "horizontal"}},
           "shape": {"field": "zone", "type": "nominal", "scale": {"domain": ["Root zone", "Root-free zone"], "range": ["circle", "triangle-up"]}, "legend": {"title": null, "orient": "none", "legendX": 134.5, "legendY": 819, "direction": "horizontal"}}}},
        {"data": {"name": "pts"}, "transform": [{"filter": "datum.k === 'Fungi' && datum.site === 'Bordeaux' && isValid(datum.h)"}], "mark": {"type": "line", "interpolate": "linear-closed", "strokeDash": [3, 2], "strokeWidth": 0.8, "color": "#444444"}, "encoding": {"x": {"field": "x", "type": "quantitative", "title": "NMDS1"}, "y": {"field": "y", "type": "quantitative", "title": "NMDS2"}, "detail": {"field": "zone"}, "order": {"field": "h", "type": "quantitative"}}},
        {"data": {"name": "pts"}, "transform": [{"filter": "datum.k === 'Fungi' && datum.site === 'Bordeaux'"}, {"joinaggregate": [{"op": "mean", "field": "x", "as": "cx"}, {"op": "mean", "field": "y", "as": "cy"}], "groupby": ["zone"]}], "mark": {"type": "rule", "strokeWidth": 0.8, "color": "#333333"}, "encoding": {"x": {"field": "x", "type": "quantitative", "title": "NMDS1"}, "y": {"field": "y", "type": "quantitative", "title": "NMDS2"}, "x2": {"field": "cx", "title": "NMDS1"}, "y2": {"field": "cy", "title": "NMDS2"}}},
        {"data": {"values": [{"t": "Bordeaux"}]}, "mark": {"type": "text", "align": "right", "baseline": "alphabetic", "fontSize": 19, "fontWeight": "bold", "color": "#222222"}, "encoding": {"x": {"datum": 0.496, "type": "quantitative", "title": "NMDS1"}, "y": {"datum": 0.234, "type": "quantitative", "title": "NMDS2"}, "text": {"field": "t"}}},
        {"data": {"values": [{"t": "Stress = 0.10"}]}, "mark": {"type": "text", "align": "left", "baseline": "alphabetic", "fontSize": 13, "fontWeight": "bold", "color": "#444444"}, "encoding": {"x": {"datum": -0.492, "type": "quantitative", "title": "NMDS1"}, "y": {"datum": -0.222, "type": "quantitative", "title": "NMDS2"}, "text": {"field": "t"}}},
        {"data": {"values": [{"t": "p < 0.05, R² = 0.27"}]}, "mark": {"type": "text", "align": "left", "baseline": "alphabetic", "fontSize": 13, "fontWeight": "bold", "color": "#444444"}, "encoding": {"x": {"datum": -0.503, "type": "quantitative", "title": "NMDS1"}, "y": {"datum": -0.297, "type": "quantitative", "title": "NMDS2"}, "text": {"field": "t"}}}
      ]
    }
  ],
  "config": {
    "font": "Liberation Sans",
    "numberFormat": ".1f",
    "view": {"stroke": "#888888", "strokeWidth": 1},
    "axis": {"grid": false, "domain": false, "tickColor": "#444444", "tickSize": 4, "labelFontWeight": "bold", "labelFontSize": 13, "labelColor": "#222222", "titleFontWeight": "bold", "titleFontSize": 14.5, "titleColor": "#222222"},
    "axisX": {"tickCount": 5, "labelPadding": 4, "titlePadding": 2},
    "axisY": {"tickCount": 3, "labelAngle": -90, "labelAlign": "center", "labelBaseline": "alphabetic", "labelPadding": 0.5, "titlePadding": 4},
    "legend": {"labelFontSize": 19, "labelFontWeight": "bold", "labelColor": "#333333", "symbolSize": 120, "labelOffset": 4, "columnPadding": 73, "symbolStrokeWidth": 0}
  }
}
